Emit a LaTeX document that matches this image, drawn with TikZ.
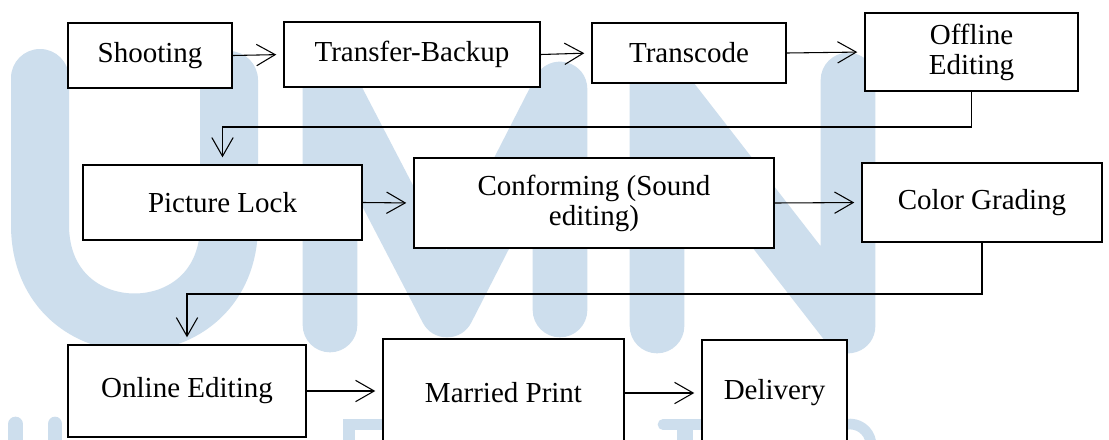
\documentclass[tikz,border=0pt]{standalone}
\usepackage{fontspec}
\setmainfont{Liberation Serif}
\usetikzlibrary{arrows.meta}
\definecolor{wmblue}{RGB}{205,222,237}
\tikzset{
  wm/.style={draw=wmblue, line cap=round, line join=round},
  box/.style={draw=black, line width=1.6pt, fill=white, inner sep=0pt, align=center,
    font=\fontsize{21.75}{22.5}\selectfont},
  arr/.style={-{Straight Barb[length=14pt,width=16pt]}, line width=0.8pt, shorten >=5pt}
}
\begin{document}
\begin{tikzpicture}[x=0.75pt,y=-0.75pt]
\useasboundingbox (0,0) rectangle (1109,439);
\clip (0,0) rectangle (1109,439);
\fill[white] (0,0) rectangle (1109,439);
% watermark
\draw[wm, line width=43.5pt] (40,78) -- (40,225) .. controls (40,355) and (229,355) .. (229,225) -- (229,80);
\draw[wm, line width=41pt] (330,325) -- (330,85) -- (447,310) -- (560,89) -- (560,310);
\draw[wm, line width=41pt] (657,326) -- (657,80) -- (848,326) -- (848,80);
\draw[wm, line width=11pt] (15.5,424) -- (15.5,450);
\draw[wm, line width=11pt] (55,424) -- (55,450);
\fill[wmblue] (343,419) rectangle (383,430);
\fill[wmblue] (343,419) rectangle (355,450);
\draw[wm, line width=8pt] (663,424.5) -- (705,424.5);
\fill[wmblue] (677,424) rectangle (693,450);
\draw[wm, line width=8pt] (842.8,425.3) arc[start angle=-110, end angle=20, radius=21];
% boxes
\node[box, minimum width=123pt, minimum height=48.75pt] (shoot) at (150,55.5) {Shooting};
\node[box, minimum width=192pt, minimum height=48.75pt] (transfer) at (412,54.5) {Transfer-Backup};
\node[box, minimum width=145.5pt, minimum height=45pt] (transcode) at (689,53) {Transcode};
\node[box, minimum width=159.75pt, minimum height=58.5pt] (offline) at (971.5,52) {Offline\\Editing};
\node[box, minimum width=209.25pt, minimum height=56.25pt] (lock) at (222.5,202.5) {Picture Lock};
\node[box, minimum width=270pt, minimum height=67.5pt] (conform) at (594,203) {Conforming (Sound\\editing)};
\node[box, minimum width=180pt, minimum height=59.25pt] (grade) at (982,202.5) {Color Grading};
\node[box, minimum width=178.5pt, minimum height=69pt] (online) at (187,391) {Online Editing};
\node[box, minimum width=180.75pt, minimum height=81pt] (married) at (503.5,393) {Married Print};
\node[box, minimum width=108.75pt, minimum height=79.5pt] (delivery) at (774.5,393) {Delivery};
% connectors
\coordinate (k1) at (0,127);
\coordinate (k2) at (0,294);
\draw[arr] (shoot.east) -- (transfer.west);
\draw[arr] (transfer.east) -- (transcode.west);
\draw[arr] (transcode.east) -- (offline.west);
\draw[arr] (offline.south) -- (offline.south |- k1) -| (lock.north);
\draw[arr] (lock.east) -- (conform.west);
\draw[arr] (conform.east) -- (grade.west);
\draw[arr] (grade.south) -- (grade.south |- k2) -| (online.north);
\draw[arr] (online.east) -- (married.west |- online.east);
\draw[arr] (married.east) -- (delivery.west);
\end{tikzpicture}
\end{document}
